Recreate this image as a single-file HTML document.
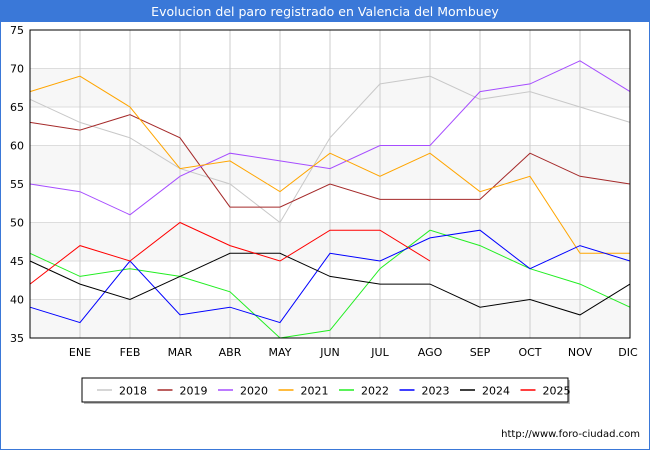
<!DOCTYPE html>
<html><head><meta charset="utf-8"><style>
body{margin:0;width:650px;height:450px;overflow:hidden;background:#fff;font-family:"Liberation Sans","DejaVu Sans",sans-serif}
</style></head><body>
<svg width="650" height="450" viewBox="0 0 650 450" style="font-family:'DejaVu Sans','Liberation Sans',sans-serif">
<rect x="0.5" y="0.5" width="649" height="449" fill="#fff" stroke="#3a78d8"/>
<rect x="0" y="0" width="650" height="22" fill="#3a78d8"/>
<text x="325" y="16" text-anchor="middle" fill="#fff" font-size="12.5">Evolucion del paro registrado en Valencia del Mombuey</text>
<g id="bands"></g><g id="grid"></g><g id="axes"></g><g id="series"></g>
<rect x="30" y="30" width="600" height="308" fill="none" stroke="#000"/>
<rect x="84" y="380" width="486" height="24" fill="#bbb"/>
<rect x="82" y="378" width="486" height="24" fill="#fff" stroke="#000" stroke-width="1"/>
<g id="legend"></g>
<text x="640" y="437" text-anchor="end" font-size="10" fill="#000">http://www.foro-ciudad.com</text>
</svg>
<script>
const months=["","ENE","FEB","MAR","ABR","MAY","JUN","JUL","AGO","SEP","OCT","NOV","DIC"];
const yTicks=[35,40,45,50,55,60,65,70,75];
const years=["2018","2019","2020","2021","2022","2023","2024","2025"];
const colors=["#c8c8c8","#a52a2a","#a64dff","#ffa500","#22ee22","#0000ff","#000000","#ff0000"];
const s2018=[66,63,61,57,55,50,61,68,69,66,67,65,63];
const s2019=[63,62,64,61,52,52,55,53,53,53,59,56,55];
const s2020=[55,54,51,56,59,58,57,60,60,67,68,71,67];
const s2021=[67,69,65,57,58,54,59,56,59,54,56,46,46];
const s2022=[46,43,44,43,41,35,36,44,49,47,44,42,39];
const s2023=[39,37,45,38,39,37,46,45,48,49,44,47,45];
const s2024=[45,42,40,43,46,46,43,42,42,39,40,38,42];
const s2025=[42,47,45,50,47,45,49,49,45];
const series=[s2018,s2019,s2020,s2021,s2022,s2023,s2024,s2025];
const NS="http://www.w3.org/2000/svg";
const X=i=>30+i*50, Y=v=>338-(v-35)*7.7;
function mk(t,a,p){const e=document.createElementNS(NS,t);for(const k in a)e.setAttribute(k,a[k]);p.appendChild(e);return e;}
const bands=document.getElementById('bands'),grid=document.getElementById('grid'),axes=document.getElementById('axes'),ser=document.getElementById('series'),leg=document.getElementById('legend');
for(let i=0;i<yTicks.length-1;i++){if(i%2===0){const r=mk('rect',{x:30,y:Y(yTicks[i+1]),width:600,height:Y(yTicks[i])-Y(yTicks[i+1]),fill:'#f7f7f7'},bands);

}}
yTicks.forEach(v=>{const l=mk('line',{x1:30,x2:630,y1:Y(v),y2:Y(v),stroke:'#ddd'},grid);


const t=mk('text',{x:24,y:Y(v)+4,'text-anchor':'end','font-size':11},axes);t.textContent=v;

});
months.forEach((m,i)=>{if(i===0)return;const l=mk('line',{x1:X(i),x2:X(i),y1:30,y2:338,stroke:'#ccc'},grid);


const t=mk('text',{x:i===12?X(i)-2:X(i),y:356,'text-anchor':'middle','font-size':11},axes);t.textContent=m;

});
series.forEach((s,k)=>{const p=mk('polyline',{points:s.map((v,i)=>X(i)+','+Y(v)).join(' '),fill:'none',stroke:colors[k],'stroke-width':1},ser);


const lx=97+k*60.5;const l=mk('line',{x1:lx,x2:lx+15,y1:390,y2:390,stroke:colors[k],'stroke-width':1.5},leg);


const t=mk('text',{x:lx+22,y:394.5,'font-size':11},leg);t.textContent=years[k];

});
</script>
</body></html>
